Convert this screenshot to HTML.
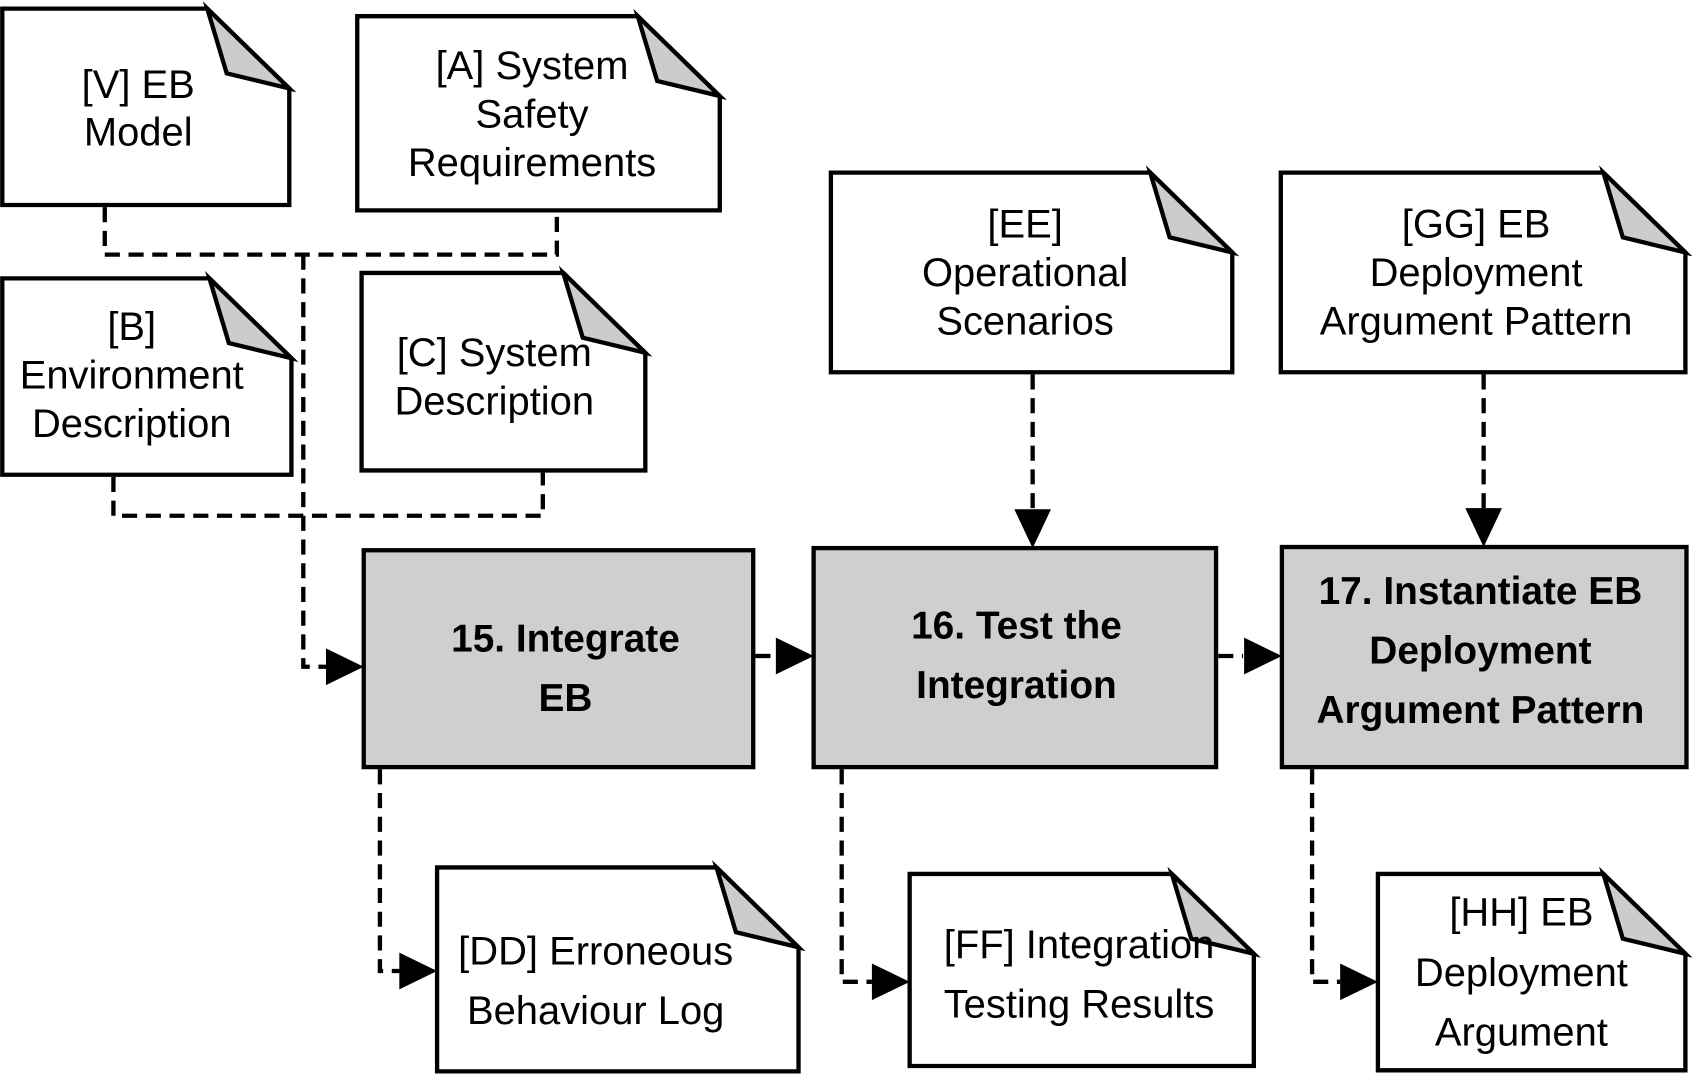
<!DOCTYPE html>
<html><head><meta charset="utf-8"><style>
html,body{margin:0;padding:0;background:#fff}
svg{display:block}
text{font-family:"Liberation Sans",sans-serif;font-size:37px;fill:#000;text-anchor:middle}
.b{font-weight:bold;font-size:36px}
.d{fill:none;stroke:#000;stroke-width:4;stroke-dasharray:14 8}
</style></head><body>
<svg width="1692" height="1080" viewBox="0 0 1568 1001" xmlns="http://www.w3.org/2000/svg">
<g fill="#fff" stroke="#000" stroke-width="4" stroke-linejoin="miter">
<path d="M2,8 H192 L268,82 V190 H2 Z"/><path d="M192,8 L210,68 L268,82 Z" fill="#ccc"/>
<path d="M331,15 H591 L667,89 V195 H331 Z"/><path d="M591,15 L609,75 L667,89 Z" fill="#ccc"/>
<path d="M2,258 H194 L270,332 V440 H2 Z"/><path d="M194,258 L212,318 L270,332 Z" fill="#ccc"/>
<path d="M335,253 H522 L598,327 V436 H335 Z"/><path d="M522,253 L540,313 L598,327 Z" fill="#ccc"/>
<path d="M770,160 H1066 L1142,234 V345 H770 Z"/><path d="M1066,160 L1084,220 L1142,234 Z" fill="#ccc"/>
<path d="M1187,160 H1486 L1562,234 V345 H1187 Z"/><path d="M1486,160 L1504,220 L1562,234 Z" fill="#ccc"/>
<path d="M405,804 H664 L740,878 V993 H405 Z"/><path d="M664,804 L682,864 L740,878 Z" fill="#ccc"/>
<path d="M843,810 H1086 L1162,884 V988 H843 Z"/><path d="M1086,810 L1104,870 L1162,884 Z" fill="#ccc"/>
<path d="M1277,810 H1486 L1562,884 V992 H1277 Z"/><path d="M1486,810 L1504,870 L1562,884 Z" fill="#ccc"/>
<rect x="337" y="510" width="361" height="201" fill="#d0cece"/>
<rect x="754" y="508" width="373" height="203" fill="#d0cece"/>
<rect x="1188" y="507" width="375" height="204" fill="#d0cece"/>
</g>
<g>
<path class="d" d="M97,192 V236 H516 V197"/>
<path class="d" d="M281,236 V618 H302"/>
<path class="d" d="M105,442 V478 H503 V438"/>
<path class="d" d="M700,608 H722"/>
<path class="d" d="M1129,608 H1152"/>
<path class="d" d="M957,347 V472"/>
<path class="d" d="M1375,347 V472"/>
<path class="d" d="M352,713 V900 H372"/>
<path class="d" d="M780,713 V910 H808"/>
<path class="d" d="M1216,713 V910 H1242"/>
</g>
<g fill="#000">
<path d="M337,618 L302,601 V635 Z"/>
<path d="M754,608 L719,591 V625 Z"/>
<path d="M1188,608 L1153,591 V625 Z"/>
<path d="M957,508 L940,472 H974 Z"/>
<path d="M1375,507 L1358,471 H1392 Z"/>
<path d="M405,900 L370,883 V917 Z"/>
<path d="M843,910 L808,893 V927 Z"/>
<path d="M1277,910 L1242,893 V927 Z"/>
</g>
<text x="128" y="91">[V] EB</text><text x="128" y="135">Model</text>
<text x="493" y="73">[A] System</text><text x="493" y="118">Safety</text><text x="493" y="163">Requirements</text>
<text x="122" y="315">[B]</text><text x="122" y="360">Environment</text><text x="122" y="405">Description</text>
<text x="458" y="339">[C] System</text><text x="458" y="384">Description</text>
<text x="950" y="220">[EE]</text><text x="950" y="265">Operational</text><text x="950" y="310">Scenarios</text>
<text x="1368" y="220">[GG] EB</text><text x="1368" y="265">Deployment</text><text x="1368" y="310">Argument Pattern</text>
<text class="b" x="524" y="604">15. Integrate</text><text class="b" x="524" y="659">EB</text>
<text class="b" x="942" y="592">16. Test the</text><text class="b" x="942" y="647">Integration</text>
<text class="b" x="1372" y="560">17. Instantiate EB</text><text class="b" x="1372" y="615">Deployment</text><text class="b" x="1372" y="670">Argument Pattern</text>
<text x="552" y="894">[DD] Erroneous</text><text x="552" y="949">Behaviour Log</text>
<text x="1000" y="888">[FF] Integration</text><text x="1000" y="943">Testing Results</text>
<text x="1410" y="858">[HH] EB</text><text x="1410" y="914">Deployment</text><text x="1410" y="969">Argument</text>
</svg>
</body></html>
